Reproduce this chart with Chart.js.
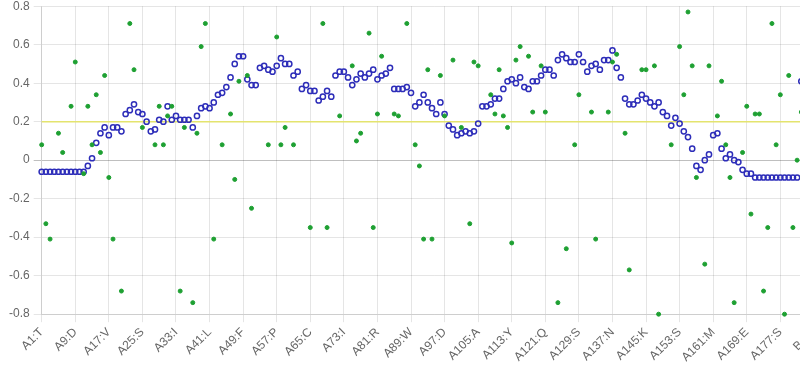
<!DOCTYPE html>
<html><head><meta charset="utf-8">
<script src="https://cdn.jsdelivr.net/npm/chart.js@4/dist/chart.umd.min.js"></script>
<style>
html,body{margin:0;padding:0;overflow:hidden;background:#fff;}
#wrap{position:absolute;left:5px;top:-5.2px;width:827px;height:387.2px;}
</style></head><body>
<div id="wrap"><canvas id="c"></canvas></div>
<script>
// Residues: chain A has 181 residues, a few of chain B follow (cut off at the right)
const chainALength = 181;
const chainBShown = 7;
// Tick labels shown every 8th residue
const tickLabels = ['A1:T','A9:D','A17:V','A25:S','A33:I','A41:L','A49:F','A57:P','A65:C','A73:I','A81:R','A89:W','A97:D','A105:A','A113:Y','A121:Q','A129:S','A137:N','A145:K','A153:S','A161:M','A169:E','A177:S','B4:A'];
const tickEvery = 8;

// Blue hollow circles (per residue)
const predicted = [
-0.06,-0.06,-0.06,-0.06,-0.06,-0.06,-0.06,-0.06,-0.06,-0.06,
-0.06,-0.03,0.01,0.09,0.14,0.17,0.13,0.17,0.17,0.15,
0.24,0.26,0.29,0.25,0.24,0.20,0.15,0.16,0.21,0.20,
0.28,0.21,0.23,0.21,0.21,0.21,0.17,0.23,0.27,0.28,
0.27,0.30,0.34,0.35,0.38,0.43,0.50,0.54,0.54,0.42,
0.39,0.39,0.48,0.49,0.47,0.46,0.49,0.53,0.50,0.50,
0.44,0.46,0.37,0.39,0.36,0.36,0.31,0.33,0.36,0.33,
0.44,0.46,0.46,0.43,0.39,0.42,0.45,0.43,0.45,0.47,
0.42,0.44,0.45,0.48,0.37,0.37,0.37,0.38,0.35,0.28,
0.30,0.34,0.30,0.27,0.24,0.30,0.24,0.18,0.16,0.13,
0.14,0.15,0.14,0.15,0.19,0.28,0.28,0.29,0.32,0.32,
0.37,0.41,0.42,0.40,0.43,0.38,0.37,0.41,0.41,0.44,
0.47,0.47,0.44,0.52,0.55,0.53,0.51,0.51,0.55,0.51,
0.46,0.49,0.50,0.47,0.52,0.52,0.57,0.48,0.43,0.32,
0.29,0.29,0.31,0.34,0.32,0.30,0.28,0.30,0.25,0.23,
0.18,0.22,0.19,0.15,0.12,0.06,-0.03,-0.05,0.00,0.03,
0.13,0.14,0.06,0.01,0.03,0.00,-0.01,-0.05,-0.07,-0.07,
-0.09,-0.09,-0.09,-0.09,-0.09,-0.09,-0.09,-0.09,-0.09,-0.09,
-0.09,0.41
];

// Green filled dots (per residue, null where no dot)
const observed = [
0.08,-0.33,-0.41,null,0.14,0.04,null,0.28,0.51,null,
-0.07,0.28,0.08,0.34,0.04,0.44,-0.09,-0.41,null,-0.68,
null,0.71,0.47,null,0.17,null,null,0.08,0.28,0.08,
0.23,0.28,null,-0.68,0.17,null,-0.74,0.14,0.59,0.71,
null,-0.41,null,0.08,null,0.24,-0.10,0.41,null,0.44,
-0.25,null,null,null,0.08,null,0.64,0.08,0.17,null,
0.08,null,null,null,-0.35,null,null,0.71,-0.35,null,
null,0.23,null,null,0.49,0.10,0.14,null,0.66,-0.35,
0.24,0.54,null,null,0.24,0.23,null,0.71,null,0.08,
-0.03,-0.41,0.47,-0.41,null,0.44,0.23,null,0.52,null,
0.17,null,-0.33,0.51,0.49,null,null,0.34,0.24,0.47,
0.23,0.17,-0.43,0.52,0.59,null,0.54,0.25,null,0.49,
0.25,null,null,-0.74,null,-0.46,null,0.08,0.34,null,
null,0.25,-0.41,null,null,0.25,0.51,0.55,null,0.14,
-0.57,null,null,0.47,0.47,null,0.49,-0.80,null,null,
0.08,null,0.59,0.34,0.77,0.49,-0.09,null,-0.54,0.49,
null,0.23,0.41,0.08,-0.09,-0.74,null,0.04,0.28,-0.28,
0.24,0.24,-0.68,-0.35,0.71,0.08,0.34,-0.80,0.44,-0.35,
0.00,0.25
];

const threshold = 0.2;
const yMin = -0.8, yMax = 0.8, yStep = 0.2;

const categories = [];
for (let i = 1; i <= chainALength; i++) categories.push('A' + i);
for (let i = 1; i <= chainBShown; i++) categories.push('B' + i);

Chart.defaults.font.family = "'Helvetica Neue', Helvetica, Arial, 'Liberation Sans', sans-serif";
Chart.defaults.font.size = 12;
Chart.defaults.color = '#666';

new Chart(document.getElementById('c'), {
  type: 'line',
  data: {
    labels: categories,
    datasets: [
      {
        label: 'observed',
        data: observed,
        showLine: false,
        pointRadius: 2,
        pointBorderWidth: 1,
        pointBackgroundColor: 'rgb(30,160,50)',
        pointBorderColor: 'rgb(30,160,50)',
        clip: false,
        order: 0
      },
      {
        label: 'predicted',
        data: predicted,
        showLine: false,
        pointRadius: 2.6,
        pointBorderWidth: 1.5,
        pointBackgroundColor: 'rgba(0,0,0,0)',
        pointBorderColor: 'rgb(45,45,185)',
        clip: false,
        order: 1
      },
      {
        label: 'threshold',
        data: [{x: categories[0], y: threshold}, {x: categories[categories.length - 1], y: threshold}],
        borderColor: 'rgb(228,228,110)',
        borderWidth: 1.5,
        pointRadius: 0,
        fill: false,
        order: 2
      }
    ]
  },
  options: {
    responsive: true,
    maintainAspectRatio: false,
    animation: false,
    events: [],
    layout: { padding: { left: 0, right: 0, top: 0, bottom: 14.6 } },
    plugins: { legend: { display: false }, tooltip: { enabled: false } },
    scales: {
      x: {
        type: 'category',
        offset: false,
        grid: { color: 'rgba(0,0,0,0.1)', tickLength: 8 },
        border: { color: 'rgba(0,0,0,0.1)' },
        ticks: {
          autoSkip: false,
          minRotation: 45,
          maxRotation: 45,
          callback: function(v, i) { return i % tickEvery === 0 ? tickLabels[i / tickEvery] : null; }
        }
      },
      y: {
        min: yMin, max: yMax,
        grid: {
          color: ctx => (ctx.tick && Math.abs(ctx.tick.value) < 1e-9) ? 'rgba(0,0,0,0.25)' : 'rgba(0,0,0,0.1)',
          tickLength: 8
        },
        border: { color: 'rgba(0,0,0,0.1)' },
        ticks: { stepSize: yStep, padding: 4 }
      }
    }
  }
});
</script>
</body></html>
